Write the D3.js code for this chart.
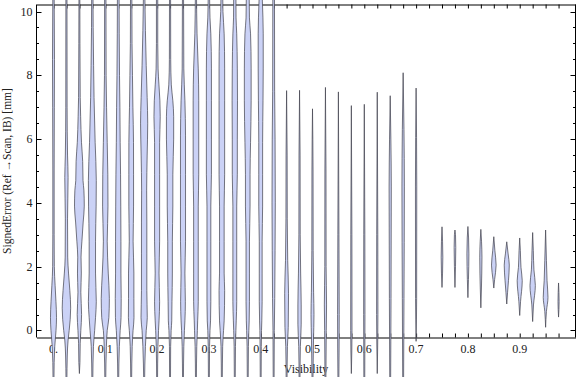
<!DOCTYPE html>
<html>
<head>
<meta charset="utf-8">
<script src="https://cdn.jsdelivr.net/npm/d3@7"></script>
<style>
  body { margin: 0; background: #fff; }
  svg { display: block; }
  text { font-family: 'Liberation Serif', 'Times New Roman', serif; fill: #222; }
</style>
</head>
<body>
<div id="chart"></div>
<script>
// violin centres (Visibility)
const visibility = [
  0, 0.025, 0.05, 0.075, 0.1, 0.125, 0.15, 0.175, 0.2, 0.225,
  0.25, 0.275, 0.3, 0.325, 0.35, 0.375, 0.4, 0.425,
  0.45, 0.475, 0.5, 0.525, 0.55, 0.575, 0.6, 0.625, 0.65, 0.675, 0.7,
  0.75, 0.775, 0.8, 0.825, 0.85, 0.875, 0.9, 0.925, 0.95, 0.975
]

// smoothed density per violin: [signed error (mm), relative density]
const profiles = [
  [[-1.6,0.08],[-1,0.12],[-0.5,0.23],[0,0.46],[0.4,0.55],[0.9,0.45],[1.4,0.3],[2,0.15],[3,0.12],[5,0.12],[7,0.15],[8.5,0.18],[10.6,0.12]],
  [[-1.6,0.08],[-0.8,0.15],[-0.3,0.3],[0,0.5],[0.7,0.77],[1.25,0.62],[1.8,0.38],[2.3,0.23],[3.5,0.2],[4.8,0.3],[5.5,0.2],[7,0.12],[10.6,0.1]],
  [[-1.35,0],[-1,0.1],[-0.4,0.15],[0,0.26],[0.5,0.4],[1.2,0.26],[1.8,0.35],[2.3,0.3],[2.8,0.46],[3.4,0.69],[3.9,0.89],[4.4,0.82],[4.7,0.66],[5.3,0.6],[5.9,0.38],[6.7,0.23],[7.3,0.15],[9,0.1],[10.6,0.08]],
  [[-1.6,0.08],[-0.5,0.2],[0,0.42],[0.4,0.58],[0.9,0.72],[1.8,0.58],[2.8,0.58],[3.9,0.69],[4.7,0.72],[5.9,0.51],[7.3,0.31],[8.3,0.23],[9.5,0.15],[10.6,0.12]],
  [[-1.6,0.08],[-0.5,0.2],[0,0.35],[0.4,0.65],[1.0,0.74],[1.8,0.54],[2.8,0.35],[3.9,0.49],[4.9,0.46],[5.9,0.35],[7,0.23],[8,0.15],[10.6,0.12]],
  [[-1.6,0.08],[-0.5,0.2],[0,0.35],[0.4,0.51],[1.0,0.54],[1.8,0.49],[2.8,0.49],[3.9,0.46],[4.9,0.42],[5.9,0.35],[7,0.3],[8,0.23],[10.6,0.15]],
  [[-1.6,0.08],[-0.5,0.18],[0,0.34],[0.4,0.51],[1.0,0.49],[1.8,0.49],[2.8,0.35],[3.9,0.43],[4.9,0.43],[5.9,0.42],[7,0.31],[8,0.23],[9,0.15],[10.6,0.12]],
  [[-1.6,0.08],[-0.5,0.23],[0,0.38],[0.4,0.57],[1.25,0.49],[2.4,0.49],[3.4,0.49],[4.4,0.46],[5.5,0.55],[6.5,0.65],[7.3,0.55],[8.3,0.38],[9.4,0.23],[10.6,0.12]],
  [[-1.6,0.08],[-0.5,0.15],[0,0.26],[0.3,0.35],[0.9,0.46],[1.8,0.35],[2.8,0.46],[3.9,0.46],[4.9,0.46],[5.9,0.46],[6.7,0.57],[7.2,0.51],[7.7,0.34],[8.2,0.18],[9,0.12],[10.6,0.12]],
  [[-1.6,0.08],[-0.5,0.11],[0,0.2],[0.3,0.31],[0.9,0.35],[1.8,0.42],[2.8,0.42],[3.9,0.51],[4.9,0.51],[6,0.66],[6.7,0.66],[7.2,0.51],[7.7,0.23],[8.5,0.12],[10.6,0.1]],
  [[-1.6,0.08],[-0.5,0.15],[0,0.26],[0.3,0.35],[0.9,0.43],[1.8,0.35],[2.8,0.46],[3.9,0.46],[4.9,0.46],[6.1,0.46],[7.2,0.35],[8.2,0.15],[10.6,0.1]],
  [[-1.6,0.08],[-0.5,0.15],[0,0.26],[0.3,0.31],[0.9,0.42],[1.8,0.42],[2.8,0.42],[3.9,0.42],[4.9,0.51],[6,0.51],[7.2,0.51],[8.2,0.42],[9.3,0.2],[10.6,0.1]],
  [[-1.6,0.08],[-0.5,0.12],[0,0.2],[0.3,0.3],[0.9,0.35],[1.8,0.35],[2.8,0.35],[3.9,0.35],[4.9,0.46],[6,0.46],[7.2,0.46],[8.2,0.46],[9.3,0.35],[9.8,0.2],[10.6,0.12]],
  [[-1.6,0.08],[-0.5,0.15],[0,0.31],[0.3,0.42],[1.25,0.51],[1.8,0.42],[2.8,0.42],[3.9,0.42],[4.9,0.51],[6,0.51],[7.2,0.51],[8.2,0.51],[9.3,0.42],[10,0.2],[10.6,0.15]],
  [[-1.6,0.08],[-0.5,0.12],[0,0.2],[0.3,0.26],[0.9,0.35],[1.8,0.35],[2.8,0.35],[3.9,0.35],[4.9,0.46],[6,0.46],[7.2,0.49],[8.2,0.46],[9.3,0.35],[9.8,0.23],[10.6,0.2]],
  [[-1.6,0.08],[-0.5,0.12],[0,0.2],[0.3,0.26],[0.9,0.31],[1.8,0.31],[2.8,0.31],[3.9,0.42],[4.9,0.42],[5.9,0.51],[7.2,0.62],[8.2,0.62],[9.3,0.51],[9.8,0.31],[10.6,0.25]],
  [[-1.6,0.08],[-0.5,0.11],[0,0.15],[0.3,0.2],[0.9,0.26],[1.8,0.26],[2.8,0.26],[3.9,0.35],[4.9,0.35],[5.9,0.35],[7.2,0.42],[8.2,0.46],[9.3,0.46],[10.3,0.31],[10.6,0.25]],
  [[-1.6,0.08],[0,0.12],[1,0.2],[2.5,0.26],[4,0.3],[6,0.26],[7.5,0.18],[10.6,0.15]],
  [[-1.6,0.08],[-0.5,0.15],[0.1,0.3],[1.15,0.35],[2.2,0.2],[3.5,0.12],[5.5,0.1],[7.52,0]],
  [[-1.6,0.08],[-0.5,0.15],[0.2,0.3],[0.8,0.3],[1.8,0.2],[3,0.12],[5.5,0.1],[7.53,0]],
  [[-1.6,0.08],[-0.3,0.18],[0.5,0.27],[1.2,0.2],[2.5,0.12],[5,0.1],[6.95,0]],
  [[-1.6,0.08],[0,0.15],[0.8,0.2],[2,0.12],[5,0.1],[7.62,0]],
  [[-1.6,0.08],[0.5,0.15],[3,0.1],[7.48,0]],
  [[-1.35,0],[0,0.12],[3,0.1],[7.05,0]],
  [[-1.6,0.08],[0.5,0.12],[3,0.1],[7.09,0]],
  [[-1.35,0],[0.5,0.12],[3,0.1],[7.47,0]],
  [[-1.6,0.08],[1,0.15],[4.5,0.2],[6,0.12],[7.36,0]],
  [[-1.6,0.08],[1,0.15],[4.5,0.22],[6.3,0.15],[8.08,0]],
  [[-0.34,0],[1,0.1],[4.5,0.12],[7.6,0]],
  [[1.35,0],[1.8,0.1],[2.3,0.15],[2.8,0.1],[3.25,0]],
  [[1.35,0],[2,0.1],[2.6,0.15],[3,0.1],[3.15,0]],
  [[1.03,0],[1.6,0.1],[2.4,0.18],[2.9,0.12],[3.26,0]],
  [[0.71,0],[1.3,0.1],[2.3,0.2],[2.8,0.12],[3.17,0]],
  [[1.33,0],[1.6,0.15],[2.05,0.42],[2.5,0.2],[2.94,0]],
  [[0.83,0],[1.2,0.15],[1.56,0.31],[2.05,0.46],[2.4,0.25],[2.78,0]],
  [[0.47,0],[0.9,0.15],[1.56,0.46],[1.98,0.23],[2.5,0.12],[2.9,0]],
  [[0.28,0],[0.8,0.15],[1.41,0.49],[1.9,0.23],[2.5,0.12],[3.07,0]],
  [[0.1,0],[0.6,0.15],[1.04,0.43],[1.56,0.26],[2.2,0.15],[3.15,0]],
  [[0.42,0],[0.9,0.1],[1.49,0]]
]

const xTickValues = [0, 0.1, 0.2, 0.3, 0.4, 0.5, 0.6, 0.7, 0.8, 0.9]
const xTickLabels = ['0.', '0.1', '0.2', '0.3', '0.4', '0.5', '0.6', '0.7', '0.8', '0.9']
const xMinorTicks = d3.range(0, 40).map((i) => i * 0.025)
const yTickValues = [0, 2, 4, 6, 8, 10]
const yMinorTicks = d3.range(0, 21).map((i) => i * 0.5)

const width = 576
const height = 377

const x = d3.scaleLinear().domain([-0.0328, 1.0077]).range([36.5, 575.5])
const y = d3.scaleLinear().domain([-0.22, 10.22]).range([337.5, 4.5])
// density -> half width in visibility units
const halfWidth = d3.scaleLinear().domain([0, 1]).range([0, 0.0106])

const svg = d3
  .select('#chart')
  .append('svg')
  .attr('width', width)
  .attr('height', height)
  .attr('viewBox', [0, 0, width, height])

// frame with inward ticks
const [x0, x1] = x.range()
const [y0, y1] = y.range()

svg.append('g')
  .attr('transform', `translate(0,${y0})`)
  .call(d3.axisBottom(x).tickValues(xMinorTicks).tickSize(-4).tickSizeOuter(0).tickFormat(''))
svg.append('g')
  .attr('transform', `translate(0,${y1})`)
  .call(d3.axisTop(x).tickValues(xMinorTicks).tickSize(-4).tickSizeOuter(0).tickFormat(''))

const minorY = (g, dir) => {
  g.selectAll('line')
    .data(yMinorTicks)
    .join('line')
    .attr('x1', 0)
    .attr('x2', (d) => (d % 2 === 0 ? 5 : 2.5) * dir)
    .attr('y1', (d) => Math.round(y(d)) + 0.5)
    .attr('y2', (d) => Math.round(y(d)) + 0.5)
    .attr('stroke', '#000')
}
svg.append('g').attr('transform', `translate(${x0},0)`).call(minorY, 1)
svg.append('g').attr('transform', `translate(${x1},0)`).call(minorY, -1)

svg.append('line')
  .attr('x1', x0).attr('x2', x0).attr('y1', y1).attr('y2', y0)
  .attr('stroke', '#000')
svg.append('line')
  .attr('x1', x1).attr('x2', x1).attr('y1', y1).attr('y2', y0)
  .attr('stroke', '#000')
svg.selectAll('.domain').attr('stroke', '#000')
svg.selectAll('.tick line').attr('stroke', '#000')

// tick labels
svg.append('g')
  .selectAll('text')
  .data(xTickValues)
  .join('text')
  .attr('x', (d) => x(d))
  .attr('y', y0 + 15)
  .attr('text-anchor', 'middle')
  .attr('font-size', 12)
  .text((d, i) => xTickLabels[i])

svg.append('g')
  .selectAll('text')
  .data(yTickValues)
  .join('text')
  .attr('x', x0 - 4)
  .attr('y', (d) => y(d) + 4)
  .attr('text-anchor', 'end')
  .attr('font-size', 12)
  .text((d) => d)

// axis titles
svg.append('text')
  .attr('x', (x0 + x1) / 2)
  .attr('y', 373)
  .attr('text-anchor', 'middle')
  .attr('font-size', 12)
  .text('Visibility')

svg.append('text')
  .attr('transform', `translate(11,${(y0 + y1) / 2}) rotate(-90)`)
  .attr('text-anchor', 'middle')
  .attr('font-size', 11.5)
  .text('SignedError (Ref \u2192Scan, IB) [mm]')

// violins
const violin = (pos) =>
  d3.area()
    .curve(d3.curveMonotoneY)
    .y((d) => y(d[0]))
    .x0((d) => x(pos - halfWidth(d[1])))
    .x1((d) => x(pos + halfWidth(d[1])))

svg.append('g')
  .selectAll('path')
  .data(profiles)
  .join('path')
  .attr('d', (d, i) => violin(visibility[i])(d))
  .attr('fill', '#cbd2f6')
  .attr('stroke', '#44444f')
  .attr('stroke-opacity', 0.72)
  .attr('stroke-width', 1)
</script>
</body>
</html>
